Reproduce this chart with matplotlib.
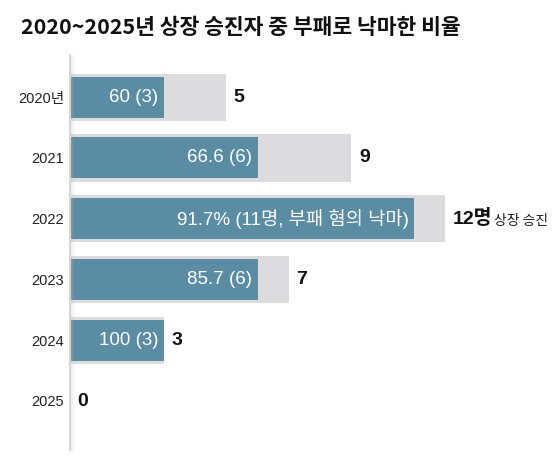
import matplotlib
matplotlib.use('Agg')
import matplotlib.pyplot as plt
from matplotlib.transforms import ScaledTranslation

plt.rcParams['font.family'] = ['Liberation Sans', 'Noto Sans CJK KR', 'DejaVu Sans']

# data
years = ['2020년', '2021', '2022', '2023', '2024', '2025']
promoted = [5, 9, 12, 7, 3, 0]        # 상장 승진자 수
fallen = [3, 6, 11, 6, 3, 0]          # 부패로 낙마한 수
inner_labels = ['60 (3)', '66.6 (6)', '91.7% (11명, 부패 혐의 낙마)', '85.7 (6)', '100 (3)', '']
count_labels = ['5', '9', '12명', '7', '3', '0']

blue = '#5a8ca4'
grey = '#dcdcde'

W, H = 559, 462
fig = plt.figure(figsize=(W / 100, H / 100), dpi=100)

# axes placed in pixel terms: left edge at the vertical line
ax_left, ax_top, ax_bottom = 69.7, 55, 450
ax = fig.add_axes([ax_left / W, 1 - ax_bottom / H, (W - ax_left) / W, (ax_bottom - ax_top) / H])
px_per_unit = 31.3
ax.set_xlim(0, (W - ax_left) / px_per_unit)
row0, pitch = 97.2, 60.76
ax.set_ylim((ax_bottom - row0) / pitch, (ax_top - row0) / pitch)

ypos = list(range(len(years)))

# background (total promoted) and foreground (fallen) bars
ax.barh(ypos, promoted, height=0.78, color=grey, zorder=2)
ax.barh(ypos, fallen, height=0.675, color=blue, zorder=3)

# white labels inside the blue bars
for y, v, lab in zip(ypos, fallen, inner_labels):
    if lab:
        ax.annotate(lab, xy=(v, y), xytext=(-4, 0), textcoords='offset points',
                    ha='right', va='center', color='white', fontsize=13.5,
                    zorder=4)

# counts to the right of the grey bars
for y, v, lab in zip(ypos, promoted, count_labels):
    t = ax.annotate(lab, xy=(v, y), xytext=(5.5, 0), textcoords='offset points',
                    ha='left', va='center', color='#111111', fontsize=14,
                    fontweight='bold', zorder=4)
    if lab.endswith('명'):
        ax.annotate('상장 승진', xy=(1, 0), xycoords=t, xytext=(1, 0),
                    textcoords='offset points', ha='left', va='bottom',
                    fontsize=10, color='#222222', family=['Noto Sans CJK KR'])

# year labels on the left
ax.set_yticks(ypos)
ax.set_yticklabels(years, fontsize=10.5, color='#222222')
ax.tick_params(axis='y', length=0, pad=4)
ax.tick_params(axis='x', bottom=False, labelbottom=False)

for s in ['top', 'right', 'bottom']:
    ax.spines[s].set_visible(False)
ax.spines['left'].set_color('#d6d6d6')
ax.spines['left'].set_linewidth(1.5)
ax.spines['left'].set_zorder(5)

# faint shadow to the right of the vertical line
for k, a in enumerate([0.22, 0.14, 0.08, 0.04]):
    tr = ax.transAxes + ScaledTranslation((k + 1.5) / 100, 0, fig.dpi_scale_trans)
    ax.plot([0, 0], [0, 1], transform=tr, color='#c0c0c0', alpha=a, lw=1,
            solid_capstyle='butt', zorder=5, clip_on=False)

fig.text(21 / W, 1 - 28 / H, '2020~2025년 상장 승진자 중 부패로 낙마한 비율',
         ha='left', va='center', fontsize=15.5, fontweight='bold', color='#111111',
         family=['Noto Sans CJK KR'])

fig.savefig('out.png', dpi=100)
